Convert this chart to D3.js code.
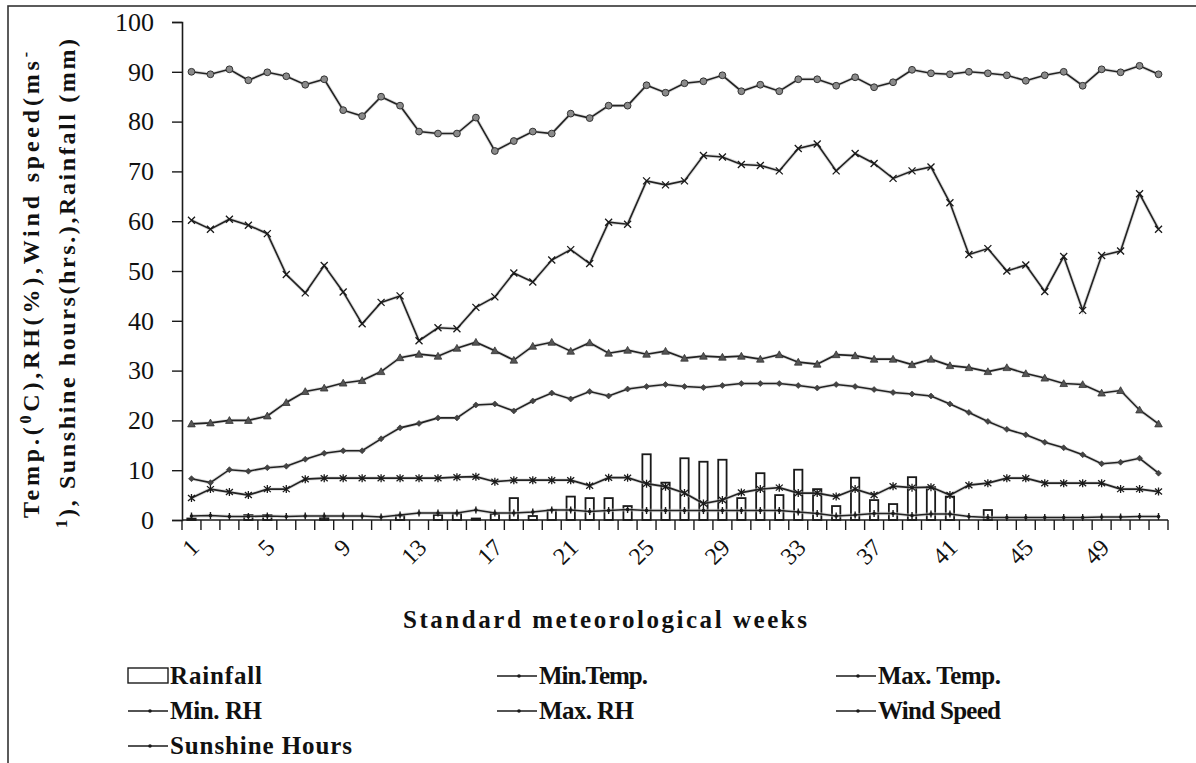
<!DOCTYPE html>
<html>
<head>
<meta charset="utf-8">
<script src="https://cdn.jsdelivr.net/npm/d3@7"></script>
<style>
  html, body { margin: 0; padding: 0; background: #fff; }
  svg { display: block; }
</style>
</head>
<body>
<svg id="chart" width="1196" height="763" font-family="Liberation Serif"></svg>
<script>
// Standard meteorological weeks
const weeks = [1,2,3,4,5,6,7,8,9,10,11,12,13,14,15,16,17,18,19,20,21,22,23,24,25,26,
               27,28,29,30,31,32,33,34,35,36,37,38,39,40,41,42,43,44,45,46,47,48,49,50,51,52];
const weekTickLabels = ["1","5","9","13","17","21","25","29","33","37","41","45","49"];
const yTickValues = [0,10,20,30,40,50,60,70,80,90,100];

// Weekly weather observations
const rainfall = [0.3,0,0,1.0,1.0,0,0,0.4,0,0,0,0.9,0,1.0,1.3,0.3,1.2,4.4,0.8,2.0,4.7,4.4,4.4,2.8,13.2,7.5,
                  12.4,11.7,12.1,4.4,9.4,5.0,10.1,6.2,2.8,8.5,4.0,3.2,8.6,6.6,4.7,0,2.0,0,0,0,0,0,0,0,0,0];
const minTemp = [8.3,7.5,10.1,9.8,10.5,10.8,12.2,13.4,13.9,13.9,16.3,18.5,19.4,20.5,20.5,23.1,23.3,21.9,23.9,25.5,24.3,25.8,24.9,26.3,26.8,27.2,
                 26.8,26.6,27.0,27.4,27.4,27.4,27.0,26.5,27.2,26.8,26.2,25.6,25.3,24.9,23.3,21.6,19.8,18.2,17.1,15.6,14.5,13.1,11.3,11.6,12.4,9.4];
const maxTemp = [19.3,19.5,20.0,20.0,20.9,23.6,25.8,26.5,27.5,28.0,29.8,32.6,33.3,32.9,34.5,35.7,34.0,32.1,34.9,35.7,33.9,35.6,33.5,34.1,33.3,33.9,
                 32.5,32.9,32.7,32.9,32.3,33.2,31.7,31.3,33.2,33.0,32.3,32.3,31.2,32.3,31.0,30.6,29.8,30.6,29.4,28.5,27.4,27.2,25.5,26.0,22.1,19.3];
const minRH = [60.2,58.4,60.4,59.2,57.5,49.3,45.6,51.1,45.8,39.4,43.7,45.0,36.0,38.6,38.4,42.7,44.8,49.6,47.8,52.2,54.3,51.5,59.8,59.4,68.1,67.3,
               68.1,73.2,72.9,71.4,71.2,70.1,74.6,75.5,70.1,73.6,71.6,68.6,70.1,70.9,63.7,53.3,54.5,50.0,51.2,45.9,52.9,42.1,53.1,54.0,65.5,58.4];
const maxRH = [90.0,89.5,90.5,88.3,89.9,89.1,87.4,88.5,82.3,81.1,85.0,83.2,78.0,77.6,77.6,80.8,74.1,76.1,78.0,77.6,81.6,80.7,83.2,83.2,87.3,85.8,
               87.7,88.1,89.3,86.1,87.4,86.1,88.5,88.5,87.2,88.9,86.9,87.9,90.4,89.7,89.5,90.0,89.7,89.3,88.2,89.3,90.0,87.2,90.5,89.9,91.2,89.5];
const windSpeed = [0.8,0.9,0.7,0.7,0.8,0.7,0.8,0.8,0.8,0.8,0.6,1.0,1.4,1.4,1.4,2.0,1.4,1.4,1.6,2.0,2.0,1.7,1.9,2.1,1.9,1.9,
                   1.9,1.9,1.9,1.9,1.9,1.9,1.6,1.3,0.8,1.0,1.3,1.3,0.9,1.2,1.2,0.7,0.5,0.5,0.5,0.5,0.5,0.5,0.6,0.6,0.7,0.7];
const sunshine = [4.4,6.2,5.6,5.0,6.2,6.2,8.2,8.4,8.4,8.4,8.4,8.4,8.4,8.4,8.6,8.7,7.7,8.0,8.0,8.0,8.0,6.9,8.5,8.5,7.3,6.7,
                  5.4,3.3,4.0,5.5,6.2,6.5,5.4,5.4,4.7,6.2,5.0,6.8,6.5,6.6,5.0,7.0,7.4,8.4,8.4,7.4,7.4,7.4,7.4,6.2,6.2,5.7];

const FONT = "Liberation Serif";
const svg = d3.select("#chart");
const ink = "#1a1a1a";

// Outer frame
svg.append("rect")
  .attr("x", 8).attr("y", 6).attr("width", 1200).attr("height", 800)
  .attr("fill", "none").attr("stroke", "#333").attr("stroke-width", 1.6);

const plot = { left: 182, right: 1168, top: 22, bottom: 520 };

const x = d3.scaleBand().domain(weeks).range([plot.left, plot.right]).padding(0);
const y = d3.scaleLinear().domain([0, 100]).range([plot.bottom, plot.top]);
const cx = w => x(w) + x.bandwidth() / 2;

// Rainfall bars
const barW = x.bandwidth() * 0.44;
svg.append("g").selectAll("rect")
  .data(weeks.map((w, i) => ({ w, v: rainfall[i] })).filter(d => d.v > 0))
  .join("rect")
  .attr("x", d => cx(d.w) - barW / 2)
  .attr("y", d => y(d.v))
  .attr("width", barW)
  .attr("height", d => y(0) - y(d.v))
  .attr("fill", "#fff")
  .attr("stroke", ink)
  .attr("stroke-width", 1.8);

// Marker shapes
function drawMarker(g, type, px, py) {
  switch (type) {
    case "circle":
      g.append("circle").attr("cx", px).attr("cy", py).attr("r", 3.4)
        .attr("fill", "#8a8a8a").attr("stroke", "#333").attr("stroke-width", 1);
      break;
    case "cross":
      g.append("path").attr("d", `M${px-3.5},${py-3.5}L${px+3.5},${py+3.5}M${px-3.5},${py+3.5}L${px+3.5},${py-3.5}`)
        .attr("stroke", ink).attr("stroke-width", 1.3);
      break;
    case "triangle":
      g.append("path").attr("d", `M${px},${py-3.8}L${px+3.8},${py+3}L${px-3.8},${py+3}Z`)
        .attr("fill", "#555").attr("stroke", "#333").attr("stroke-width", 0.8);
      break;
    case "diamond":
      g.append("path").attr("d", `M${px},${py-3}L${px+3},${py}L${px},${py+3}L${px-3},${py}Z`)
        .attr("fill", "#444").attr("stroke", "#333").attr("stroke-width", 0.6);
      break;
    case "dash":
      g.append("path").attr("d", `M${px},${py-3.5}L${px},${py+3.5}`)
        .attr("stroke", ink).attr("stroke-width", 1.4);
      g.append("circle").attr("cx", px).attr("cy", py).attr("r", 1.8).attr("fill", ink);
      break;
    case "star":
      g.append("path").attr("d", `M${px-3.5},${py-3}L${px+3.5},${py+3}M${px-3.5},${py+3}L${px+3.5},${py-3}M${px},${py-4}L${px},${py+4}`)
        .attr("stroke", ink).attr("stroke-width", 1.3);
      break;
  }
}

const series = [
  { name: "Min.Temp.", values: minTemp, marker: "diamond" },
  { name: "Max. Temp.", values: maxTemp, marker: "triangle" },
  { name: "Min. RH", values: minRH, marker: "cross" },
  { name: "Max. RH", values: maxRH, marker: "circle" },
  { name: "Wind Speed", values: windSpeed, marker: "dash" },
  { name: "Sunshine Hours", values: sunshine, marker: "star" }
];

const line = d3.line().x(d => cx(d.w)).y(d => y(d.v));

series.forEach(s => {
  const pts = weeks.map((w, i) => ({ w, v: s.values[i] }));
  const g = svg.append("g");
  // soft halo beneath each line
  g.append("path").datum(pts).attr("d", line)
    .attr("fill", "none").attr("stroke", "#bdbdbd").attr("stroke-width", 3.4).attr("opacity", 0.55);
  g.append("path").datum(pts).attr("d", line)
    .attr("fill", "none").attr("stroke", "#222").attr("stroke-width", 1.6);
  pts.forEach(p => drawMarker(g, s.marker, cx(p.w), y(p.v)));
});

// Y axis
const yAxis = d3.axisLeft(y).tickValues(yTickValues).tickSize(10).tickPadding(18);
const gy = svg.append("g").attr("transform", `translate(${plot.left},0)`).call(yAxis)
  .attr("font-family", FONT).attr("font-size", 26);
gy.select(".domain").attr("stroke", ink).attr("stroke-width", 1.6);
gy.selectAll(".tick line").attr("stroke", ink).attr("stroke-width", 1.4);
gy.selectAll(".tick text").attr("fill", "#111");

// X axis: ticks between weeks, labels every fourth week
const xAxisG = svg.append("g").attr("font-family", FONT);
xAxisG.append("line")
  .attr("x1", plot.left).attr("x2", plot.right)
  .attr("y1", y(0)).attr("y2", y(0))
  .attr("stroke", ink).attr("stroke-width", 1.6);
const tickPos = weeks.map(w => x(w)).concat([x(weeks[weeks.length - 1]) + x.bandwidth()]);
xAxisG.selectAll("line.tick").data(tickPos).join("line")
  .attr("class", "tick")
  .attr("x1", d => d).attr("x2", d => d)
  .attr("y1", y(0)).attr("y2", y(0) + 10)
  .attr("stroke", ink).attr("stroke-width", 1.4);
xAxisG.selectAll("text").data(weekTickLabels).join("text")
  .attr("transform", d => `translate(${cx(+d) + 9},${y(0) + 29}) rotate(-45)`)
  .attr("text-anchor", "end")
  .attr("font-size", 24)
  .attr("fill", "#111")
  .text(d => d);

// Axis titles
svg.append("text")
  .attr("x", 403).attr("y", 628)
  .attr("font-family", FONT).attr("font-size", 25).attr("font-weight", "bold").attr("fill", "#111")
  .attr("textLength", 404).attr("lengthAdjust", "spacing")
  .text("Standard meteorological weeks");

const yt1 = svg.append("text")
  .attr("transform", "translate(39,518) rotate(-90)")
  .attr("font-family", FONT).attr("font-size", 24).attr("font-weight", "bold").attr("fill", "#111")
  .attr("textLength", 466).attr("lengthAdjust", "spacing");
yt1.append("tspan").text("Temp.(");
yt1.append("tspan").attr("font-size", 16).attr("dy", -8).text("0");
yt1.append("tspan").attr("dy", 8).text("C),RH(%),Wind speed(ms");
yt1.append("tspan").attr("font-size", 16).attr("dy", -8).text("-");

const yt2 = svg.append("text")
  .attr("transform", "translate(75,528) rotate(-90)")
  .attr("font-family", FONT).attr("font-size", 24).attr("font-weight", "bold").attr("fill", "#111")
  .attr("textLength", 489).attr("lengthAdjust", "spacing");
yt2.append("tspan").attr("font-size", 17).attr("dy", -8).text("1");
yt2.append("tspan").attr("dy", 8).text("), Sunshine hours(hrs.),Rainfall (mm)");

// Legend
const legendItems = [
  { name: "Rainfall", kind: "bar", x: 128, y: 676, len: 92 },
  { name: "Min.Temp.", kind: "diamond", x: 497, y: 676, len: 109 },
  { name: "Max. Temp.", kind: "triangle", x: 836, y: 676, len: 123 },
  { name: "Min. RH", kind: "cross", x: 128, y: 711, len: 92 },
  { name: "Max. RH", kind: "circle", x: 497, y: 711, len: 95 },
  { name: "Wind Speed", kind: "dash", x: 836, y: 711, len: 123 },
  { name: "Sunshine Hours", kind: "star", x: 128, y: 746, len: 182 }
];
const lg = svg.append("g");
legendItems.forEach(it => {
  const g = lg.append("g");
  if (it.kind === "bar") {
    g.append("rect").attr("x", it.x).attr("y", it.y - 8).attr("width", 40).attr("height", 15)
      .attr("fill", "#fff").attr("stroke", ink).attr("stroke-width", 1.4);
  } else {
    g.append("line").attr("x1", it.x).attr("x2", it.x + 40).attr("y1", it.y).attr("y2", it.y)
      .attr("stroke", ink).attr("stroke-width", 1.5);
    g.append("circle").attr("cx", it.x + 22).attr("cy", it.y).attr("r", 1.8).attr("fill", ink);
  }
  g.append("text").attr("x", it.x + 42).attr("y", it.y + 8)
    .attr("font-family", FONT).attr("font-size", 25).attr("font-weight", "bold").attr("fill", "#111")
    .attr("textLength", it.len).attr("lengthAdjust", "spacing")
    .text(it.name);
});
</script>
</body>
</html>
